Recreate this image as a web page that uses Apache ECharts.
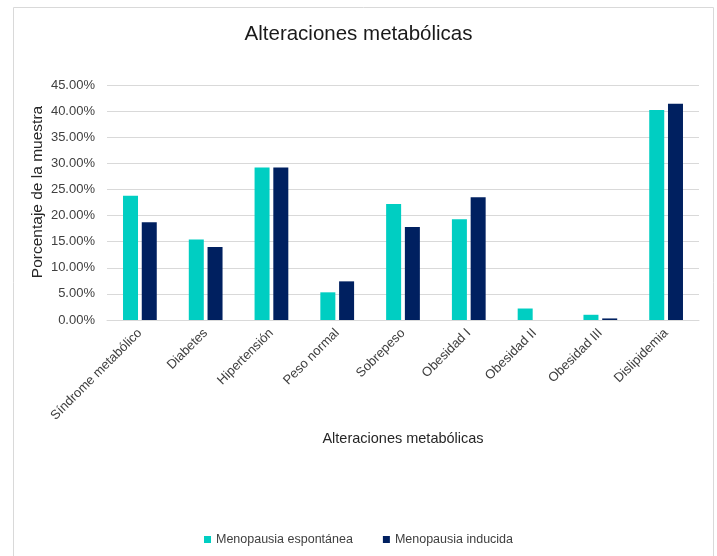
<!DOCTYPE html>
<html><head><meta charset="utf-8">
<script src="https://cdn.jsdelivr.net/npm/echarts@6/dist/echarts.min.js"></script>
<style>html,body{margin:0;padding:0;background:#fff}#c{width:717px;height:556px}</style>
</head><body><div id="c"></div>
<script>
const categories = ['Síndrome metabólico','Diabetes','Hipertensión','Peso normal','Sobrepeso','Obesidad I','Obesidad II','Obesidad III','Dislipidemia'];
const espontanea = [23.8, 15.4, 29.2, 5.3, 22.2, 19.3, 2.2, 1.0, 40.2];
const inducida = [18.7, 14.0, 29.2, 7.4, 17.8, 23.5, 0, 0.3, 41.4];
const seriesNames = ['Menopausia espontánea','Menopausia inducida'];
const yAxisTitle = 'Porcentaje de la muestra';
const xAxisTitle = 'Alteraciones metabólicas';
const chart = echarts.init(document.getElementById('c'));
const font = 'Liberation Sans, Arial, sans-serif';
chart.setOption({
  animation:false,
  textStyle:{fontFamily:font},
  title:{text:'Alteraciones metabólicas',left:'center',top:19,textStyle:{fontSize:20.5,fontWeight:'normal',color:'#1a1a1a',fontFamily:font}},
  graphic:[
    {type:'rect',shape:{x:13.5,y:7.5,width:700,height:560},style:{fill:'none',stroke:'#d9d9d9',lineWidth:1},silent:true},
    {type:'text',x:38,y:192,rotation:Math.PI/2,style:{text:yAxisTitle,fontSize:15.5,fontFamily:font,fill:'#262626',align:'center',verticalAlign:'middle'}}
  ],
  legend:{bottom:5,left:'center',itemWidth:7,itemHeight:7,itemGap:30,icon:'rect',textStyle:{fontSize:12.5,color:'#404040',fontFamily:font},data:seriesNames},
  grid:{left:107,right:18,top:85,bottom:236},
  xAxis:{type:'category',data:categories,
    axisLine:{lineStyle:{color:'#d9d9d9'}},axisTick:{show:false},
    axisLabel:{rotate:45,interval:0,fontSize:13,color:'#404040',margin:11},
    name:xAxisTitle,nameLocation:'middle',nameGap:111,
    nameTextStyle:{fontSize:14.5,color:'#262626'}},
  yAxis:{type:'value',min:0,max:45,interval:5,
    axisLabel:{formatter:v=>v.toFixed(2)+'%',fontSize:13,color:'#404040',margin:12},
    splitLine:{lineStyle:{color:'#d9d9d9'}},axisLine:{show:false},axisTick:{show:false}},
  series:[
    {name:seriesNames[0],type:'bar',data:espontanea,barWidth:15,barGap:'25%',itemStyle:{color:'#00CEC2'}},
    {name:seriesNames[1],type:'bar',data:inducida,barWidth:15,itemStyle:{color:'#002060'}}
  ]
});
</script></body></html>
